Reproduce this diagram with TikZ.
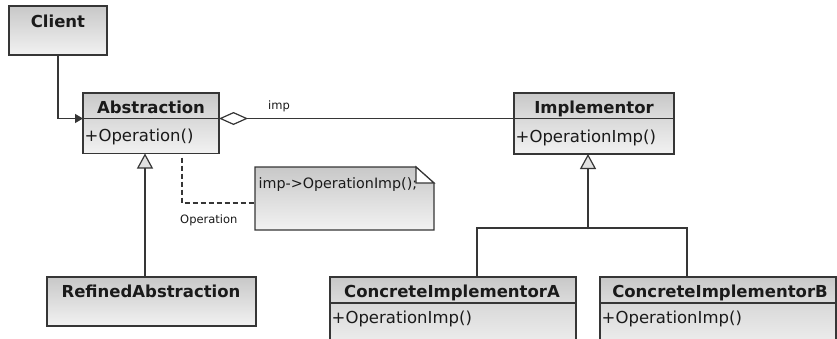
\documentclass[tikz,border=0pt]{standalone}
\usepackage{fontspec}
\setmainfont{DejaVu Sans}
\usetikzlibrary{arrows.meta}

\definecolor{edge}{HTML}{363636}
\definecolor{ink}{HTML}{1A1A1A}
\definecolor{hdrTop}{HTML}{C8C8C8}
\definecolor{hdrBot}{HTML}{DCDCDC}
\definecolor{bodyTop}{HTML}{D9D9D9}
\definecolor{bodyBot}{HTML}{F2F2F2}
\definecolor{triFill}{HTML}{E2E2E2}

\tikzset{
  boxbase/.style={draw=edge, line width=1.2pt, inner sep=0pt, outer sep=0pt, anchor=north west},
  hdr/.style={boxbase, top color=hdrTop, bottom color=hdrBot},
  cbody/.style={boxbase, top color=bodyTop, bottom color=bodyBot},
  single/.style={boxbase, top color=hdrTop, bottom color=bodyBot},
  titletext/.style={font=\fontsize{16.5}{18}\selectfont\bfseries, text=ink, anchor=base, inner sep=0pt},
  optext/.style={font=\fontsize{16.5}{18}\selectfont, text=ink, anchor=base west, inner sep=0pt},
  notetext/.style={font=\fontsize{14.3}{16}\selectfont, text=ink, anchor=base west, inner sep=0pt},
  smalltext/.style={font=\fontsize{11.5}{13}\selectfont, text=ink, anchor=base west, inner sep=0pt},
  conn/.style={draw=edge, line width=1.2pt},
  gentip/.style={-{Triangle[fill=triFill, length=15pt, width=16pt]}},
}

\begin{document}
\begin{tikzpicture}[x=1pt, y=-1pt]
  \clip (0,0) rectangle (837,338);
  \fill[white] (0,0) rectangle (837,338);

  % Client
  \node[single, minimum width=98pt, minimum height=49pt] (client) at (9,6) {};
  \node[titletext] (client-t) at (58,27.3) {Client};

  % Abstraction
  \node[hdr, minimum width=136pt, minimum height=25.5pt] (abs) at (83,93) {};
  \node[cbody, minimum width=136pt, minimum height=35pt] (abs-b) at (abs.south west) {};
  \node[titletext] (abs-t) at (151,113.3) {Abstraction};
  \node[optext] (abs-op) at (84.5,141.5) {+Operation()};

  % Implementor
  \node[hdr, minimum width=160pt, minimum height=25.5pt] (impl) at (514,93) {};
  \node[cbody, minimum width=160pt, minimum height=35.5pt] (impl-b) at (impl.south west) {};
  \node[titletext] (impl-t) at (594,113.3) {Implementor};
  \node[optext] (impl-op) at (515.5,142.5) {+OperationImp()};

  % RefinedAbstraction
  \node[single, minimum width=209pt, minimum height=49pt] (ref) at (47,277) {};
  \node[titletext] (ref-t) at (151,297) {RefinedAbstraction};

  % ConcreteImplementorA
  \node[hdr, minimum width=246pt, minimum height=26pt] (ca) at (330,277) {};
  \node[cbody, minimum width=246pt, minimum height=50pt] (ca-b) at (ca.south west) {};
  \node[titletext] (ca-t) at (452,297) {ConcreteImplementorA};
  \node[optext] (ca-op) at (331.5,323.3) {+OperationImp()};

  % ConcreteImplementorB
  \node[hdr, minimum width=236pt, minimum height=26pt] (cb) at (600,277) {};
  \node[cbody, minimum width=236pt, minimum height=50pt] (cb-b) at (cb.south west) {};
  \node[titletext] (cb-t) at (720,297) {ConcreteImplementorB};
  \node[optext] (cb-op) at (601.5,323.3) {+OperationImp()};

  % Note with folded corner
  \node[minimum width=179pt, minimum height=63pt, inner sep=0pt, outer sep=0pt, anchor=north west] (note) at (255,167) {};
  \shadedraw[conn, top color=hdrTop, bottom color=bodyBot]
    (note.north west) -- ([xshift=-18pt]note.north east) -- ([yshift=-16pt]note.north east)
    -- (note.south east) -- (note.south west) -- cycle;
  \filldraw[conn, fill=white]
    ([xshift=-18pt]note.north east) -- ([xshift=-18pt, yshift=-16pt]note.north east)
    -- ([yshift=-16pt]note.north east) -- cycle;
  \node[notetext] (note-t) at (258.5,188) {imp->OperationImp();};

  % Client association
  \draw[conn, -{Triangle[length=8pt, width=9pt]}] (client.south) |- (abs.south west);

  % Aggregation Abstraction <>-- Implementor
  \draw[conn, {Diamond[fill=white, length=29pt, width=13pt]}-] (abs.south east) -- (impl.south west);
  \node[smalltext] (imp-l) at (268,109) {imp};

  % Generalisation RefinedAbstraction -> Abstraction
  \coordinate (ga) at (145,0);
  \draw[conn, gentip] (ref.north -| ga) -- (abs-b.south -| ga);

  % Generalisation tree to Implementor
  \coordinate (gi) at (588,228);
  \coordinate (la) at (477,0);
  \coordinate (lb) at (687,0);
  \draw[conn] (ca.north -| la) |- (gi) -| (cb.north -| lb);
  \draw[conn, gentip] (gi) -- (impl-b.south -| gi);

  % Note attachment
  \coordinate (dk) at (182,0);
  \draw[conn, dash pattern=on 5pt off 3pt]
    ([yshift=-4pt]abs-b.south -| dk) |- ([yshift=-4.5pt]note.west);
  \node[smalltext] (op-l) at (180,223) {Operation};
\end{tikzpicture}
\end{document}
